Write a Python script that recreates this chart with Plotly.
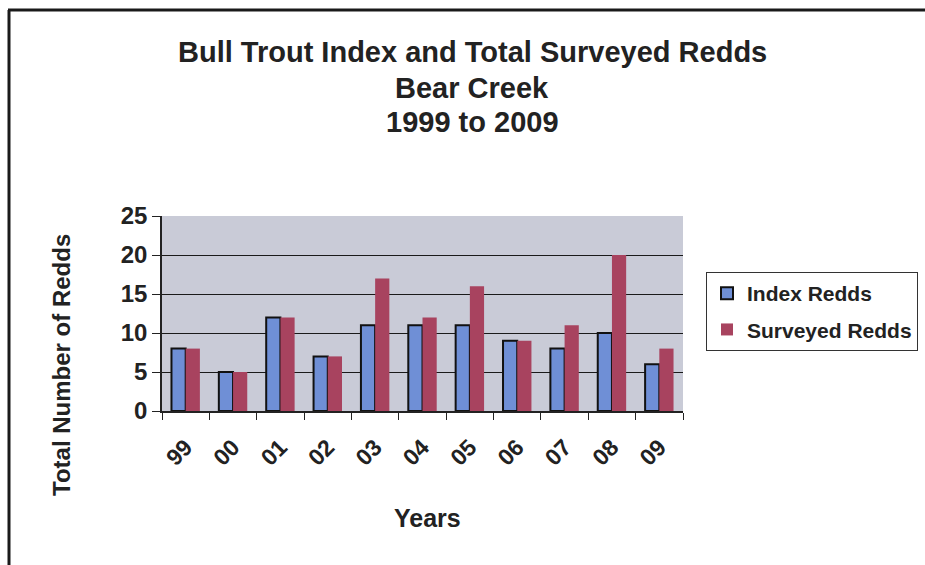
import plotly.graph_objects as go

# Bull trout redd counts, Bear Creek, 1999-2009
years = ["99", "00", "01", "02", "03", "04", "05", "06", "07", "08", "09"]
index_redds = [8, 5, 12, 7, 11, 11, 11, 9, 8, 10, 6]
surveyed_redds = [8, 5, 12, 7, 17, 12, 16, 9, 11, 20, 8]
y_ticks = [0, 5, 10, 15, 20, 25]
title_lines = ["Bull Trout Index and Total Surveyed Redds", "Bear Creek", "1999 to 2009"]

W, H = 925, 565
L, R, T, B = 162, 683, 216, 411  # plot area in pixels


def px(x):
    return (x - L) / (R - L)


def py(y):
    return (B - y) / (B - T)


FONT = "Liberation Sans, Arial, sans-serif"
TXT = "#222222"

fig = go.Figure()
fig.add_trace(go.Bar(
    x=years, y=index_redds, name="Index Redds", legendgroup="idx",
    marker=dict(color="#6f8fd6", line=dict(color="#111111", width=2)),
))
fig.add_trace(go.Bar(
    x=years, y=surveyed_redds, name="Surveyed Redds", legendgroup="srv",
    marker=dict(color="#a8435f", line=dict(width=0)),
))

title_ann = [
    dict(text=t, x=px(472), y=py(yy), xref="paper", yref="paper",
         xanchor="center", yanchor="middle", showarrow=False,
         font=dict(family=FONT, size=29, color=TXT, weight="bold"))
    for t, yy in zip(title_lines, [52, 88, 122])
]

fig.update_layout(
    width=W, height=H,
    margin=dict(l=L, r=W - R, t=T, b=H - B, pad=0, autoexpand=False),
    paper_bgcolor="#ffffff",
    plot_bgcolor="#c9cbd7",
    barmode="group",
    bargap=0.4,
    bargroupgap=0.0,
    font=dict(family=FONT, color=TXT),
    showlegend=True,
    legend=dict(
        x=px(706), y=py(272), xanchor="left", yanchor="top",
        bgcolor="#ffffff", bordercolor="#333333", borderwidth=1,
        font=dict(family=FONT, size=21, color=TXT, weight="bold"),
        itemwidth=30, tracegroupgap=6,
    ),
    xaxis=dict(
        type="category",
        tickson="boundaries",
        ticks="outside", ticklen=7, tickcolor="#222222",
        showline=True, linecolor="#222222", linewidth=1.5,
        tickangle=-45,
        ticklabelstandoff=12,
        tickfont=dict(family=FONT, size=23, color=TXT, weight="bold"),
        showgrid=False,
    ),
    yaxis=dict(
        range=[0, 25],
        tickvals=y_ticks,
        ticks="outside", ticklen=8, tickcolor="#222222",
        showline=True, linecolor="#222222", linewidth=1.5,
        showgrid=True, gridcolor="#1a1a1a", gridwidth=1,
        tickfont=dict(family=FONT, size=24, color=TXT, weight="bold"),
        zeroline=False,
    ),
    annotations=title_ann + [
        dict(text="Years", x=px(427), y=py(518), xref="paper", yref="paper",
             xanchor="center", yanchor="middle", showarrow=False,
             font=dict(family=FONT, size=25, color=TXT, weight="bold")),
        dict(text="Total Number of Redds", x=px(61), y=py(365), xref="paper", yref="paper",
             xanchor="center", yanchor="middle", showarrow=False, textangle=-90,
             font=dict(family=FONT, size=24, color=TXT, weight="bold")),
    ],
    shapes=[
        dict(type="line", xref="paper", yref="paper",
             x0=px(8), x1=px(925), y0=py(10), y1=py(10),
             line=dict(color="#1a1a1a", width=3)),
        dict(type="line", xref="paper", yref="paper",
             x0=px(9), x1=px(9), y0=py(10), y1=py(565),
             line=dict(color="#1a1a1a", width=3)),
    ],
)

fig.write_html("out.html")
